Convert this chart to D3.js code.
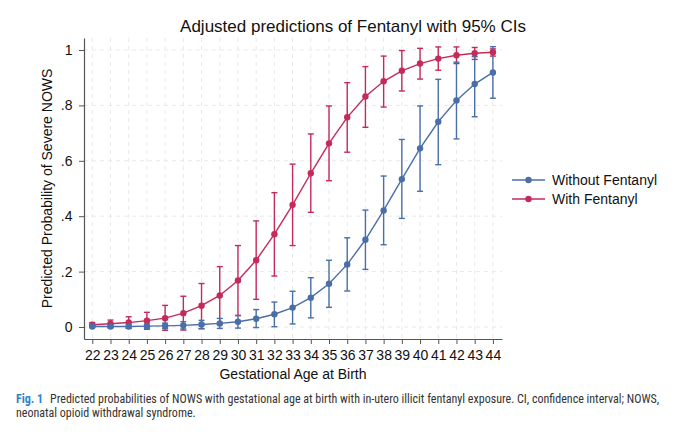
<!DOCTYPE html>
<html>
<head>
<meta charset="utf-8">
<script src="https://cdn.jsdelivr.net/npm/d3@7"></script>
<style>
  body { margin: 0; background: #fff; }
  svg { display: block; }
</style>
</head>
<body>
<svg id="chart" width="680" height="438"></svg>
<script>

// gestational age (weeks)
var ages = [22, 23, 24, 25, 26, 27, 28, 29, 30, 31, 32, 33, 34, 35, 36, 37, 38, 39, 40, 41, 42, 43, 44];

// with fentanyl
var withFent   = [0.008, 0.012, 0.016, 0.023, 0.032, 0.050, 0.077, 0.114, 0.168, 0.241, 0.335, 0.441, 0.555, 0.663, 0.757, 0.832, 0.887, 0.925, 0.951, 0.969, 0.981, 0.988, 0.992];
var withLo     = [0.000, -0.001, -0.005, -0.008, -0.012, -0.011, -0.006, 0.010, 0.042, 0.100, 0.184, 0.294, 0.414, 0.528, 0.631, 0.721, 0.794, 0.852, 0.895, 0.927, 0.951, 0.966, 0.978];
var withHi     = [0.016, 0.025, 0.037, 0.053, 0.078, 0.111, 0.157, 0.218, 0.294, 0.383, 0.485, 0.588, 0.697, 0.798, 0.882, 0.940, 0.978, 0.998, 1.006, 1.011, 1.011, 1.009, 1.004];

// without fentanyl
var withoutFent = [0.002, 0.002, 0.002, 0.003, 0.004, 0.006, 0.009, 0.013, 0.019, 0.030, 0.046, 0.070, 0.106, 0.156, 0.226, 0.315, 0.421, 0.534, 0.645, 0.741, 0.818, 0.877, 0.919];
var withoutLo   = [-0.002, -0.003, -0.004, -0.005, -0.006, -0.007, -0.006, -0.005, -0.004, -0.002, 0.001, 0.011, 0.033, 0.071, 0.130, 0.208, 0.297, 0.392, 0.490, 0.586, 0.679, 0.759, 0.826];
var withoutHi   = [0.006, 0.007, 0.008, 0.011, 0.014, 0.019, 0.024, 0.031, 0.041, 0.063, 0.090, 0.129, 0.178, 0.241, 0.322, 0.422, 0.545, 0.677, 0.798, 0.894, 0.956, 0.976, 1.012];

var yTicks = [0, 0.2, 0.4, 0.6, 0.8, 1];
var yTickLabels = ['0', '.2', '.4', '.6', '.8', '1'];

var seriesNames = ['Without Fentanyl', 'With Fentanyl'];
var colors = ['#4a6ea8', '#c42a5a'];

var svg = d3.select('#chart');
var font = '"Liberation Sans", Arial, sans-serif';

var plot = { left: 84, right: 502, top: 38, bottom: 339 };

var x = d3.scaleLinear().domain([21.545, 44.5]).range([plot.left, plot.right]);
var y = d3.scaleLinear().domain([-0.0433, 1.0433]).range([plot.bottom, plot.top]);

// -----------------------
// grid

var grid = svg.append('g');
grid.selectAll('.vg').data(ages).enter().append('line')
  .attr('x1', d => x(d)).attr('x2', d => x(d))
  .attr('y1', plot.top).attr('y2', plot.bottom)
  .attr('stroke', '#e9e9e9').attr('stroke-width', 1).attr('stroke-dasharray', '4,4');
grid.selectAll('.hg').data(yTicks).enter().append('line')
  .attr('x1', plot.left).attr('x2', plot.right)
  .attr('y1', d => y(d)).attr('y2', d => y(d))
  .attr('stroke', '#e9e9e9').attr('stroke-width', 1).attr('stroke-dasharray', '4,4');

// -----------------------
// axes

var xAxis = d3.axisBottom(x).tickValues(ages).tickFormat(d3.format('d')).tickSize(5).tickSizeOuter(0);
var gx = svg.append('g').attr('transform', 'translate(0,' + plot.bottom + ')').call(xAxis);

var yAxis = d3.axisLeft(y).tickValues(yTicks).tickFormat((d, i) => yTickLabels[i]).tickSize(5).tickSizeOuter(0);
var gy = svg.append('g').attr('transform', 'translate(' + plot.left + ',0)').call(yAxis);

[gx, gy].forEach(function(g) {
  g.select('.domain').attr('stroke', '#555').attr('stroke-width', 1.2);
  g.selectAll('.tick line').attr('stroke', '#555').attr('stroke-width', 1);
  g.selectAll('.tick text').attr('fill', '#111').style('font-family', font).style('font-size', '14px');
});
gx.selectAll('.tick text').attr('dy', '0.95em');
gy.selectAll('.tick text').attr('dx', '-0.25em');

// -----------------------
// series

var series = [
  { mid: withoutFent, lo: withoutLo, hi: withoutHi, color: colors[0] },
  { mid: withFent, lo: withLo, hi: withHi, color: colors[1] }
];

var drawOrder = [1, 0];
var capW = 3;

drawOrder.forEach(function(si) {
  var s = series[si];
  var g = svg.append('g');
  ages.forEach(function(a, i) {
    var px = x(a);
    g.append('line').attr('x1', px).attr('x2', px).attr('y1', y(s.lo[i])).attr('y2', y(s.hi[i]))
      .attr('stroke', s.color).attr('stroke-width', 1.4);
    g.append('line').attr('x1', px - capW).attr('x2', px + capW).attr('y1', y(s.lo[i])).attr('y2', y(s.lo[i]))
      .attr('stroke', s.color).attr('stroke-width', 1.4);
    g.append('line').attr('x1', px - capW).attr('x2', px + capW).attr('y1', y(s.hi[i])).attr('y2', y(s.hi[i]))
      .attr('stroke', s.color).attr('stroke-width', 1.4);
  });
});

drawOrder.forEach(function(si) {
  var s = series[si];
  var line = d3.line().x((d, i) => x(ages[i])).y(d => y(d));
  svg.append('path').datum(s.mid).attr('d', line)
    .attr('fill', 'none').attr('stroke', s.color).attr('stroke-width', 1.4);
  svg.append('g').selectAll('circle').data(s.mid).enter().append('circle')
    .attr('cx', (d, i) => x(ages[i])).attr('cy', d => y(d)).attr('r', 3.2)
    .attr('fill', s.color);
});

// -----------------------
// titles

svg.append('text').attr('x', 353).attr('y', 32).attr('text-anchor', 'middle')
  .style('font-family', font).style('font-size', '17px').attr('fill', '#111')
  .text('Adjusted predictions of Fentanyl with 95% CIs');

svg.append('text').attr('x', (plot.left + plot.right) / 2).attr('y', 379).attr('text-anchor', 'middle')
  .style('font-family', font).style('font-size', '14px').attr('fill', '#111')
  .text('Gestational Age at Birth');

svg.append('text').attr('transform', 'translate(52,' + ((plot.top + plot.bottom) / 2) + ') rotate(-90)')
  .attr('text-anchor', 'middle')
  .style('font-family', font).style('font-size', '14px').attr('fill', '#111')
  .text('Predicted Probability of Severe NOWS');

// -----------------------
// legend

var legend = svg.append('g').attr('transform', 'translate(512,180)');
seriesNames.forEach(function(name, i) {
  var row = legend.append('g').attr('transform', 'translate(0,' + (i * 19) + ')');
  row.append('line').attr('x1', 0).attr('x2', 33).attr('y1', 0).attr('y2', 0)
    .attr('stroke', colors[i]).attr('stroke-width', 1.4);
  row.append('circle').attr('cx', 16.5).attr('cy', 0).attr('r', 3.2).attr('fill', colors[i]);
  row.append('text').attr('x', 40).attr('y', 5)
    .style('font-family', font).style('font-size', '14px').attr('fill', '#111')
    .text(name);
});

// -----------------------
// caption

var capFont = '"Liberation Sans Narrow", "Arial Narrow", "Roboto Condensed", sans-serif';
var cap = svg.append('text').attr('x', 16).attr('y', 403)
  .style('font-family', capFont).style('font-size', '12px').attr('fill', '#333');
cap.append('tspan').attr('fill', '#2a86c8').style('font-weight', 'bold').text('Fig. 1');
cap.append('tspan').attr('dx', 7).text('Predicted probabilities of NOWS with gestational age at birth with in-utero illicit fentanyl exposure. CI, confidence interval; NOWS,');
svg.append('text').attr('x', 16).attr('y', 417)
  .style('font-family', capFont).style('font-size', '12px').attr('fill', '#333')
  .text('neonatal opioid withdrawal syndrome.');

</script>
</body>
</html>
